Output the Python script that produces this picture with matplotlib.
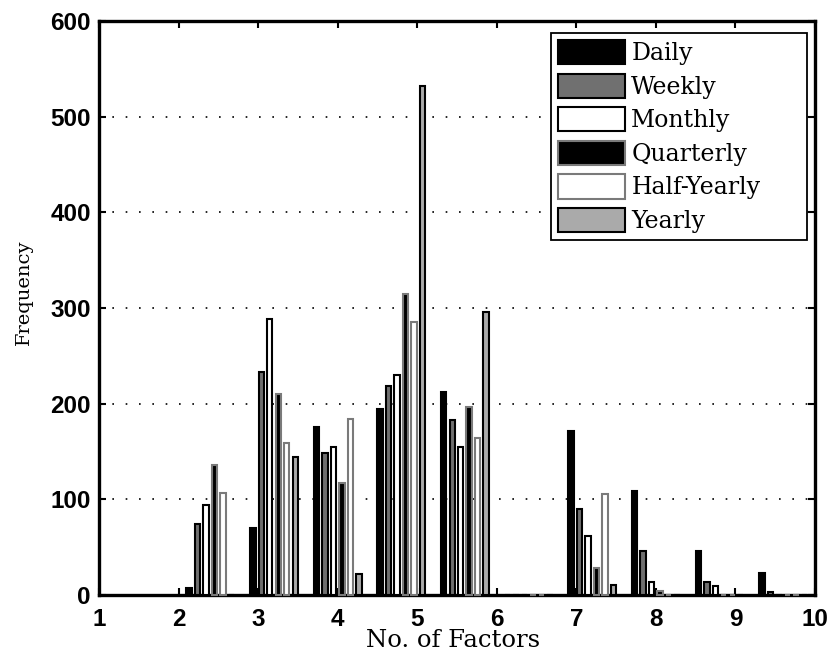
import matplotlib
matplotlib.use("Agg")
import matplotlib.pyplot as plt
import numpy as np

# ---- data ----
bin_centers = [2.4, 3.2, 4.0, 4.8, 5.6, 6.4, 7.2, 8.0, 8.8, 9.6]
series_names = ["Daily", "Weekly", "Monthly", "Quarterly", "Half-Yearly", "Yearly"]
daily      = [7, 70, 176, 194, 212, 0, 171, 109, 46, 23]
weekly     = [74, 233, 148, 218, 183, 0, 90, 46, 14, 3]
monthly    = [94, 289, 155, 230, 155, 0, 62, 14, 9, 0]
quarterly  = [136, 210, 117, 315, 197, 0, 28, 4, 0, 0]
halfyearly = [107, 159, 184, 285, 164, 0, 106, 0, 0, 0]
yearly     = [0, 144, 22, 532, 296, 0, 10, 0, 0, 0]
x_ticks = [1, 2, 3, 4, 5, 6, 7, 8, 9, 10]
y_ticks = [0, 100, 200, 300, 400, 500, 600]

all_series = [daily, weekly, monthly, quarterly, halfyearly, yearly]
faces = ["#000000", "#707070", "#ffffff", "#000000", "#ffffff", "#aaaaaa"]
edges = ["#000000", "#000000", "#000000", "#7a7a7a", "#7a7a7a", "#000000"]

fig = plt.figure(figsize=(8.35, 6.62), dpi=100)
ax = fig.add_axes([99/835, 1-595/662, (815-99)/835, (595-21)/662])

n = len(all_series)
slot = 0.8 * 0.8 / n
bw = 0.068
xc = np.array(bin_centers)
handles = []
for i, (vals, name) in enumerate(zip(all_series, series_names)):
    pos = xc + (i - (n - 1) / 2) * slot
    b = ax.bar(pos, vals, width=bw, color=faces[i], edgecolor=edges[i],
               linewidth=1.5, zorder=3, clip_on=False, label=name)
    handles.append(b)

ax.set_xlim(1, 10)
ax.set_ylim(0, 600)
ax.set_xticks(x_ticks)
ax.set_yticks(y_ticks)
ax.set_axisbelow(True)
ax.yaxis.grid(True, color="black", linestyle=(0, (1, 7)), linewidth=1.2)
ax.xaxis.grid(False)

for s in ax.spines.values():
    s.set_linewidth(2.4)
    s.set_zorder(2.5)

ax.tick_params(axis="both", which="both", direction="in", length=5, width=1.5,
               top=True, right=True)
ax.tick_params(axis="x", pad=9)
ax.tick_params(axis="y", pad=6)
for lab in ax.get_xticklabels() + ax.get_yticklabels():
    lab.set_fontfamily("Liberation Sans")
    lab.set_fontweight("bold")
    lab.set_fontsize(17.5)

ax.set_xlabel("No. of Factors", fontfamily="DejaVu Serif", fontsize=17.5)
ax.set_ylabel("Frequency", fontfamily="DejaVu Serif", fontsize=14)
ax.xaxis.set_label_coords(0.494, -0.060)
ax.xaxis.label.set_verticalalignment("top")
ax.yaxis.label.set_verticalalignment("bottom")
ax.yaxis.set_label_coords(-0.092, 0.528)

fs = 17
leg = ax.legend(handles=handles, labels=series_names, loc="upper left",
                bbox_to_anchor=(551/835, 1-236/662, 256/835, 203/662),
                bbox_transform=fig.transFigure, mode="expand",
                borderaxespad=0, prop={"family": "DejaVu Serif", "size": fs},
                handlelength=2.85, handleheight=1.2, labelspacing=0.36,
                handletextpad=0.25, borderpad=0.3, fancybox=False, framealpha=1)
leg.get_frame().set_edgecolor("black")
leg.get_frame().set_linewidth(1.3)
leg.set_zorder(5)

fig.savefig("out.png", dpi=100)
